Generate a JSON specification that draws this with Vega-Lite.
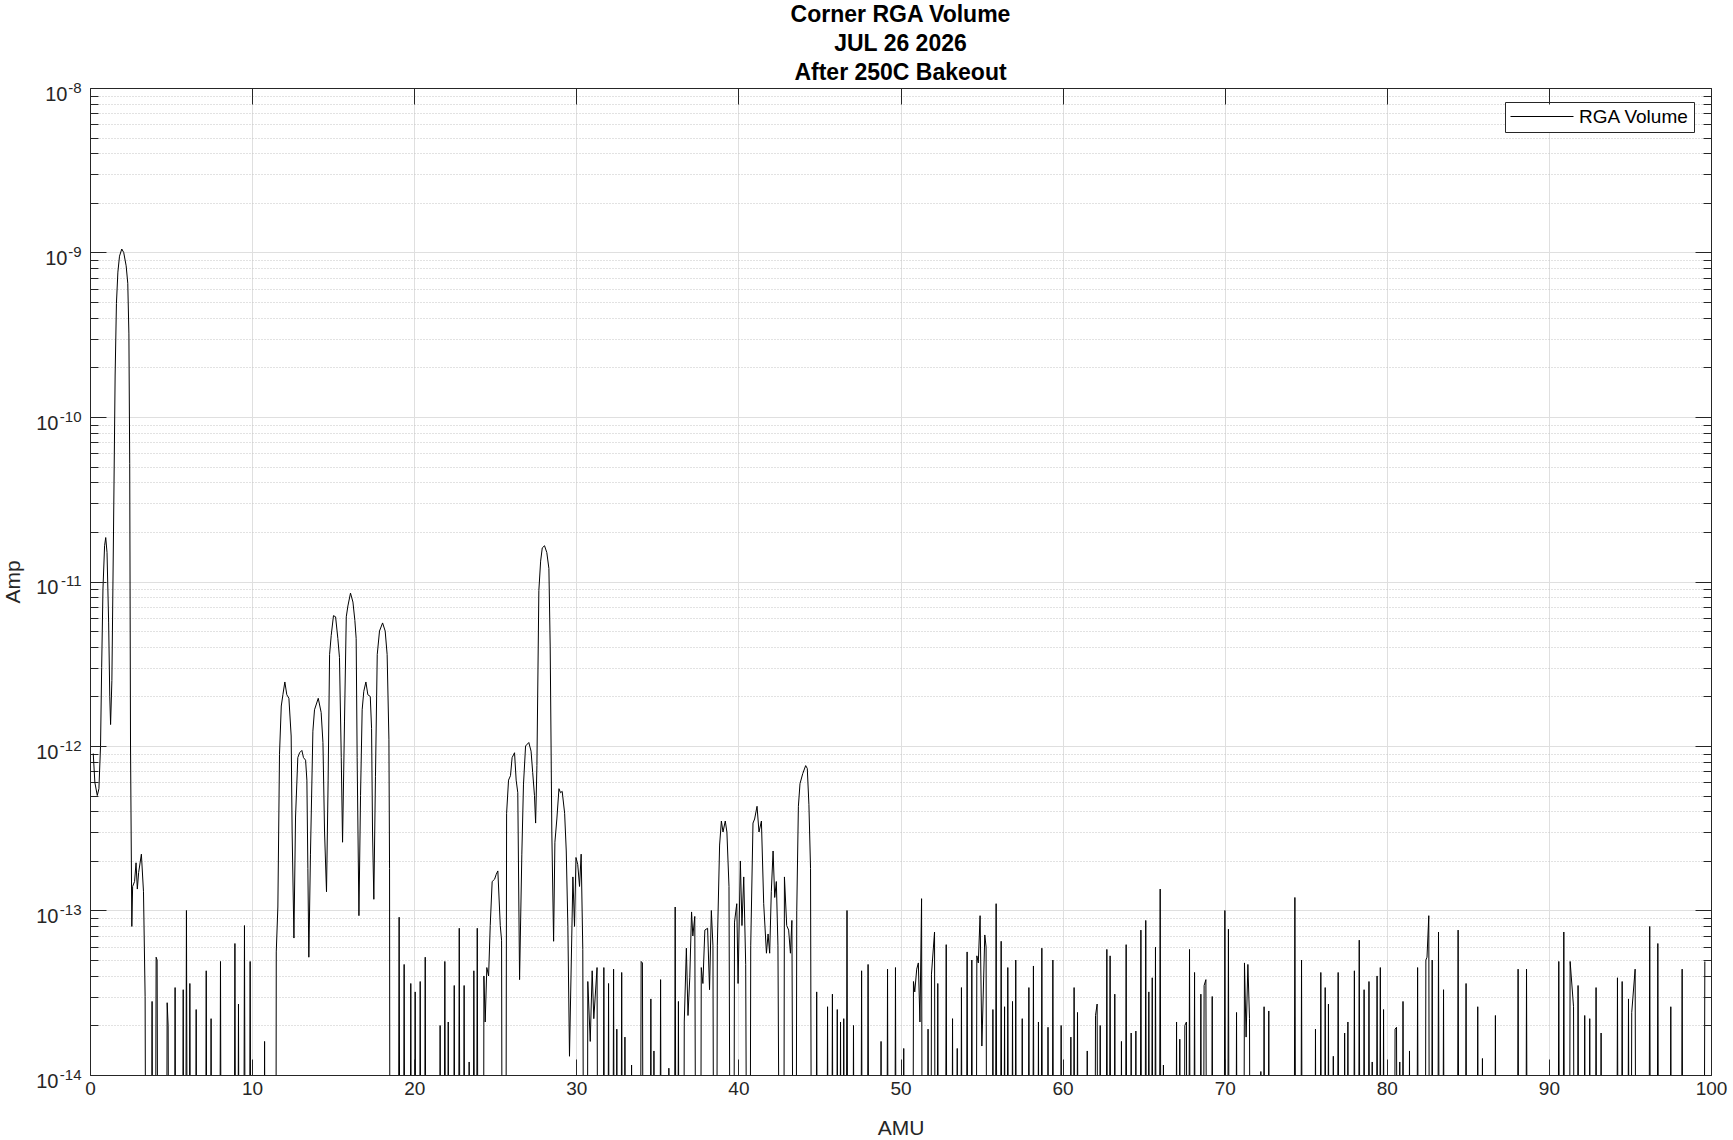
{
"$schema":"https://vega.github.io/schema/vega-lite/v6.json",
"width":1621,"height":987,
"autosize":{"type":"none"},
"padding":{"left":90,"top":88,"right":22,"bottom":65},
"background":"white",
"config":{
 "view":{"stroke":null},
 "font":"Liberation Sans",
 "axis":{"labelFont":"Liberation Sans","labelFontSize":19,"labelColor":"#262626","titleFont":"Liberation Sans","titleFontSize":21,"titleFontWeight":"normal","titleColor":"#262626","tickColor":"#262626","tickWidth":1,"domainColor":"#262626","domainWidth":1,"gridColor":"#dfdfdf","gridWidth":1,"gridOpacity":1}
},
"title":{"text":["Corner RGA Volume","JUL 26 2026","After 250C Bakeout"],"font":"Liberation Sans","fontSize":23,"fontWeight":"bold","color":"#000000","lineHeight":29,"anchor":"middle","frame":"group","offset":-5},
"data":{"values":[
{"a":0.2,"p":9e-13},{"a":0.3,"p":6e-13},{"a":0.45,"p":5e-13},{"a":0.55,"p":5.5e-13},{"a":0.65,"p":1e-12},{"a":0.72,"p":3e-12},{"a":0.8,"p":9e-12},{"a":0.9,"p":1.65e-11},{"a":0.97,"p":1.85e-11},{"a":1.05,"p":1.5e-11},{"a":1.15,"p":5.6e-12},{"a":1.22,"p":2e-12},{"a":1.27,"p":1.35e-12},{"a":1.35,"p":2.5e-12},{"a":1.45,"p":2e-11},{"a":1.55,"p":1.8e-10},{"a":1.63,"p":4.9e-10},{"a":1.72,"p":7.6e-10},{"a":1.82,"p":9.5e-10},{"a":1.96,"p":1.05e-9},{"a":2.08,"p":1e-9},{"a":2.23,"p":8.3e-10},{"a":2.33,"p":6.5e-10},{"a":2.4,"p":3.2e-10},{"a":2.45,"p":5.2e-11},{"a":2.5,"p":1e-12},{"a":2.58,"p":8e-14},{"a":2.63,"p":1.4e-13},{"a":2.75,"p":1.5e-13},{"a":2.84,"p":1.95e-13},{"a":2.92,"p":1.35e-13},{"a":3.0,"p":1.7e-13},{"a":3.17,"p":2.2e-13},{"a":3.3,"p":1.3e-13},{"a":3.4,"p":3e-14},{"a":3.5,"p":1e-17},
{"a":3.73,"p":1e-17},{"a":3.83,"p":2.8e-14},{"a":3.93,"p":1e-17},
{"a":3.98,"p":1e-17},{"a":4.08,"p":5.2e-14},{"a":4.14,"p":5e-14},{"a":4.24,"p":1e-17},
{"a":4.66,"p":1e-17},{"a":4.76,"p":2.75e-14},{"a":4.82,"p":2e-14},{"a":4.92,"p":1e-17},
{"a":5.15,"p":1e-17},{"a":5.25,"p":3.4e-14},{"a":5.35,"p":1e-17},
{"a":5.65,"p":1e-17},{"a":5.75,"p":3.3e-14},{"a":5.85,"p":1e-17},{"a":5.95,"p":1e-13},{"a":6.06,"p":1e-17},{"a":6.16,"p":3.6e-14},{"a":6.26,"p":1e-17},
{"a":6.45,"p":1e-17},{"a":6.55,"p":2.5e-14},{"a":6.65,"p":1e-17},
{"a":7.07,"p":1e-17},{"a":7.17,"p":4.3e-14},{"a":7.27,"p":1e-17},
{"a":7.37,"p":1e-17},{"a":7.47,"p":2.2e-14},{"a":7.57,"p":1e-17},
{"a":7.95,"p":1e-17},{"a":8.05,"p":4.9e-14},{"a":8.15,"p":1e-17},
{"a":8.84,"p":1e-17},{"a":8.94,"p":6.3e-14},{"a":9.04,"p":1e-17},
{"a":9.06,"p":1e-17},{"a":9.16,"p":2.7e-14},{"a":9.26,"p":1e-17},
{"a":9.43,"p":1e-17},{"a":9.53,"p":8.1e-14},{"a":9.63,"p":1e-17},
{"a":9.78,"p":1e-17},{"a":9.88,"p":4.9e-14},{"a":9.98,"p":1e-17},
{"a":10.67,"p":1e-17},{"a":10.77,"p":1.6e-14},{"a":10.87,"p":1e-17},
{"a":11.45,"p":1e-17},{"a":11.49,"p":5.6e-14},{"a":11.59,"p":1.05e-13},{"a":11.69,"p":8.9e-13},{"a":11.8,"p":1.75e-12},{"a":11.9,"p":2.05e-12},{"a":12.02,"p":2.45e-12},{"a":12.14,"p":2.05e-12},{"a":12.27,"p":1.95e-12},{"a":12.41,"p":1.15e-12},{"a":12.47,"p":3e-13},{"a":12.58,"p":6.8e-14},{"a":12.68,"p":3.7e-13},{"a":12.82,"p":8.5e-13},{"a":12.93,"p":9.1e-13},{"a":13.07,"p":9.4e-13},{"a":13.17,"p":8.5e-13},{"a":13.3,"p":8.2e-13},{"a":13.38,"p":6.2e-13},{"a":13.44,"p":1.8e-13},{"a":13.5,"p":5.2e-14},{"a":13.6,"p":2.2e-13},{"a":13.75,"p":1.23e-12},{"a":13.85,"p":1.66e-12},{"a":14.08,"p":1.95e-12},{"a":14.26,"p":1.6e-12},{"a":14.37,"p":1.05e-12},{"a":14.47,"p":3e-13},{"a":14.59,"p":1.3e-13},{"a":14.69,"p":6.2e-13},{"a":14.78,"p":3.6e-12},{"a":14.88,"p":4.7e-12},{"a":15.02,"p":6.2e-12},{"a":15.15,"p":6.1e-12},{"a":15.29,"p":4.5e-12},{"a":15.39,"p":3.45e-12},{"a":15.5,"p":8.5e-13},{"a":15.58,"p":2.6e-13},{"a":15.7,"p":1.4e-12},{"a":15.81,"p":6.1e-12},{"a":15.91,"p":7.1e-12},{"a":16.07,"p":8.5e-12},{"a":16.22,"p":7.5e-12},{"a":16.34,"p":5.8e-12},{"a":16.42,"p":4.5e-12},{"a":16.48,"p":8.5e-13},{"a":16.59,"p":9.3e-14},{"a":16.69,"p":5e-13},{"a":16.79,"p":1.66e-12},{"a":16.89,"p":2.15e-12},{"a":17.02,"p":2.45e-12},{"a":17.14,"p":2.05e-12},{"a":17.29,"p":2e-12},{"a":17.37,"p":1.28e-12},{"a":17.43,"p":3e-13},{"a":17.51,"p":1.17e-13},{"a":17.61,"p":6.5e-13},{"a":17.72,"p":3.6e-12},{"a":17.86,"p":5e-12},{"a":18.05,"p":5.6e-12},{"a":18.21,"p":5e-12},{"a":18.33,"p":3.6e-12},{"a":18.44,"p":1.1e-12},{"a":18.48,"p":1.8e-13},{"a":18.52,"p":1e-17},
{"a":18.97,"p":1e-17},{"a":19.07,"p":9.1e-14},{"a":19.17,"p":1e-17},
{"a":19.28,"p":1e-17},{"a":19.38,"p":4.7e-14},{"a":19.48,"p":1e-17},
{"a":19.69,"p":1e-17},{"a":19.79,"p":3.6e-14},{"a":19.89,"p":1e-17},
{"a":19.96,"p":1e-17},{"a":20.06,"p":3.2e-14},{"a":20.16,"p":1e-17},
{"a":20.27,"p":1e-17},{"a":20.37,"p":3.7e-14},{"a":20.47,"p":1e-17},
{"a":20.58,"p":1e-17},{"a":20.68,"p":5.2e-14},{"a":20.78,"p":1e-17},
{"a":21.5,"p":1e-17},{"a":21.6,"p":2e-14},{"a":21.7,"p":1e-17},
{"a":21.79,"p":1e-17},{"a":21.89,"p":4.9e-14},{"a":22.0,"p":1e-17},{"a":22.1,"p":2.1e-14},{"a":22.2,"p":1e-17},
{"a":22.37,"p":1e-17},{"a":22.47,"p":3.5e-14},{"a":22.57,"p":1e-17},
{"a":22.68,"p":1e-17},{"a":22.78,"p":7.8e-14},{"a":22.88,"p":1e-17},
{"a":22.98,"p":1e-17},{"a":23.08,"p":3.5e-14},{"a":23.18,"p":1e-17},
{"a":23.29,"p":1e-17},{"a":23.39,"p":1.2e-14},{"a":23.49,"p":1e-17},
{"a":23.58,"p":1e-17},{"a":23.68,"p":4.3e-14},{"a":23.79,"p":1e-17},{"a":23.89,"p":7.8e-14},{"a":23.99,"p":1e-17},
{"a":24.25,"p":1e-17},{"a":24.3,"p":4e-14},{"a":24.38,"p":2.1e-14},{"a":24.48,"p":4.5e-14},{"a":24.59,"p":4e-14},{"a":24.69,"p":8.1e-14},{"a":24.81,"p":1.5e-13},{"a":24.96,"p":1.55e-13},{"a":25.06,"p":1.66e-13},{"a":25.16,"p":1.74e-13},{"a":25.31,"p":8.1e-14},{"a":25.39,"p":6.6e-14},{"a":25.47,"p":1e-17},{"a":25.62,"p":1e-17},{"a":25.7,"p":3.9e-13},{"a":25.82,"p":6.2e-13},{"a":25.94,"p":6.6e-13},{"a":26.04,"p":8.5e-13},{"a":26.19,"p":9.1e-13},{"a":26.29,"p":6.2e-13},{"a":26.39,"p":5.2e-13},{"a":26.5,"p":3.8e-14},{"a":26.64,"p":2.2e-13},{"a":26.74,"p":5.8e-13},{"a":26.87,"p":1e-12},{"a":27.07,"p":1.05e-12},{"a":27.21,"p":9.3e-13},{"a":27.31,"p":6.9e-13},{"a":27.42,"p":5e-13},{"a":27.49,"p":3.4e-13},{"a":27.57,"p":7.6e-13},{"a":27.69,"p":8.8e-12},{"a":27.8,"p":1.33e-11},{"a":27.9,"p":1.6e-11},{"a":28.04,"p":1.65e-11},{"a":28.18,"p":1.5e-11},{"a":28.31,"p":1.2e-11},{"a":28.39,"p":4e-12},{"a":28.49,"p":3e-13},{"a":28.6,"p":6.5e-14},{"a":28.68,"p":2.6e-13},{"a":28.8,"p":3.6e-13},{"a":28.93,"p":5.5e-13},{"a":29.03,"p":5.2e-13},{"a":29.13,"p":5.3e-13},{"a":29.28,"p":3.9e-13},{"a":29.38,"p":2.3e-13},{"a":29.48,"p":8e-14},{"a":29.58,"p":1.3e-14},{"a":29.79,"p":1.6e-13},{"a":29.89,"p":8e-14},{"a":29.98,"p":2.1e-13},{"a":30.09,"p":1.9e-13},{"a":30.2,"p":1.4e-13},{"a":30.3,"p":2.2e-13},{"a":30.4,"p":5.8e-14},{"a":30.52,"p":1e-17},{"a":30.64,"p":1e-17},{"a":30.71,"p":3.7e-14},{"a":30.86,"p":1.6e-14},{"a":30.98,"p":4.3e-14},{"a":31.08,"p":2.2e-14},{"a":31.28,"p":4.5e-14},{"a":31.38,"p":1e-17},
{"a":31.6,"p":1e-17},{"a":31.7,"p":4.5e-14},{"a":31.8,"p":1e-17},
{"a":31.89,"p":1e-17},{"a":31.99,"p":3.6e-14},{"a":32.09,"p":1e-17},
{"a":32.2,"p":1e-17},{"a":32.3,"p":4.4e-14},{"a":32.4,"p":1e-17},{"a":32.5,"p":1.9e-14},{"a":32.6,"p":1e-17},
{"a":32.7,"p":1e-17},{"a":32.8,"p":4.2e-14},{"a":32.9,"p":1e-17},{"a":33.0,"p":1.7e-14},{"a":33.1,"p":1e-17},
{"a":33.31,"p":1e-17},{"a":33.41,"p":1.15e-14},{"a":33.51,"p":1e-17},
{"a":33.9,"p":1e-17},{"a":34.0,"p":4.9e-14},{"a":34.08,"p":4.8e-14},{"a":34.18,"p":1e-17},
{"a":34.5,"p":1e-17},{"a":34.6,"p":2.9e-14},{"a":34.69,"p":1e-17},{"a":34.79,"p":1.4e-14},{"a":34.89,"p":1e-17},
{"a":35.1,"p":1e-17},{"a":35.2,"p":3.8e-14},{"a":35.3,"p":1e-17},
{"a":35.61,"p":1e-17},{"a":35.71,"p":1.1e-14},{"a":35.81,"p":1e-17},
{"a":36.0,"p":1e-17},{"a":36.1,"p":1.05e-13},{"a":36.2,"p":1e-17},{"a":36.3,"p":2.8e-14},{"a":36.4,"p":1e-17},
{"a":36.58,"p":1e-17},{"a":36.66,"p":2.1e-14},{"a":36.79,"p":5.9e-14},{"a":36.89,"p":2.3e-14},{"a":37.0,"p":3.9e-14},{"a":37.11,"p":9.8e-14},{"a":37.19,"p":7e-14},{"a":37.31,"p":9.2e-14},{"a":37.43,"p":1e-17},
{"a":37.62,"p":1e-17},{"a":37.71,"p":4.5e-14},{"a":37.81,"p":3.6e-14},{"a":37.93,"p":7.6e-14},{"a":38.1,"p":7.8e-14},{"a":38.22,"p":3.3e-14},{"a":38.33,"p":1e-13},{"a":38.43,"p":6.1e-14},{"a":38.53,"p":1e-17},
{"a":38.62,"p":1e-17},{"a":38.7,"p":6.1e-14},{"a":38.84,"p":2.5e-13},{"a":38.95,"p":3.5e-13},{"a":39.05,"p":3e-13},{"a":39.19,"p":3.5e-13},{"a":39.29,"p":3e-13},{"a":39.42,"p":1.4e-13},{"a":39.56,"p":1e-17},
{"a":39.68,"p":1e-17},{"a":39.76,"p":8.5e-14},{"a":39.9,"p":1.1e-13},{"a":39.98,"p":3.6e-14},{"a":40.12,"p":2e-13},{"a":40.22,"p":8.1e-14},{"a":40.33,"p":1.6e-13},{"a":40.45,"p":4.7e-14},{"a":40.6,"p":1e-17},
{"a":40.68,"p":1e-17},{"a":40.76,"p":6.1e-14},{"a":40.9,"p":3.4e-13},{"a":41.0,"p":3.6e-13},{"a":41.15,"p":4.3e-13},{"a":41.27,"p":3e-13},{"a":41.42,"p":3.5e-13},{"a":41.56,"p":1.1e-13},{"a":41.73,"p":5.5e-14},{"a":41.83,"p":7.2e-14},{"a":41.93,"p":5.5e-14},{"a":42.03,"p":1.3e-13},{"a":42.14,"p":2.3e-13},{"a":42.24,"p":1.2e-13},{"a":42.34,"p":1.5e-13},{"a":42.44,"p":6.1e-14},{"a":42.64,"p":1e-17},
{"a":42.76,"p":1e-17},{"a":42.84,"p":1.6e-13},{"a":42.98,"p":8.1e-14},{"a":43.1,"p":7.6e-14},{"a":43.21,"p":5.5e-14},{"a":43.3,"p":8.7e-14},{"a":43.46,"p":1e-17},
{"a":43.52,"p":1e-17},{"a":43.6,"p":1e-13},{"a":43.7,"p":4.3e-13},{"a":43.8,"p":5.9e-13},{"a":43.97,"p":6.8e-13},{"a":44.15,"p":7.6e-13},{"a":44.25,"p":7.3e-13},{"a":44.35,"p":4.4e-13},{"a":44.45,"p":1.8e-13},{"a":44.56,"p":1e-17},
{"a":44.73,"p":1e-17},{"a":44.83,"p":3.2e-14},{"a":44.93,"p":1e-17},
{"a":45.4,"p":1e-17},{"a":45.5,"p":2.6e-14},{"a":45.6,"p":1e-17},
{"a":45.7,"p":1e-17},{"a":45.8,"p":3.1e-14},{"a":45.9,"p":1e-17},
{"a":46.0,"p":1e-17},{"a":46.1,"p":2.5e-14},{"a":46.2,"p":1e-17},{"a":46.3,"p":2.1e-14},{"a":46.4,"p":1e-17},{"a":46.5,"p":2.2e-14},{"a":46.6,"p":1e-17},{"a":46.7,"p":1e-13},{"a":46.8,"p":1e-17},
{"a":47.0,"p":1e-17},{"a":47.1,"p":2e-14},{"a":47.2,"p":1e-17},
{"a":47.5,"p":1e-17},{"a":47.6,"p":4.3e-14},{"a":47.7,"p":1e-17},
{"a":47.9,"p":1e-17},{"a":48.0,"p":4.7e-14},{"a":48.1,"p":1e-17},
{"a":48.7,"p":1e-17},{"a":48.8,"p":1.6e-14},{"a":48.9,"p":1e-17},
{"a":49.1,"p":1e-17},{"a":49.2,"p":4.4e-14},{"a":49.3,"p":1e-17},
{"a":49.59,"p":1e-17},{"a":49.69,"p":4.5e-14},{"a":49.79,"p":1e-17},
{"a":50.1,"p":1e-17},{"a":50.2,"p":1.45e-14},{"a":50.3,"p":1e-17},
{"a":50.72,"p":1e-17},{"a":50.8,"p":3.7e-14},{"a":50.88,"p":3.2e-14},{"a":51.0,"p":4.4e-14},{"a":51.1,"p":4.8e-14},{"a":51.2,"p":2.1e-14},{"a":51.3,"p":1.18e-13},{"a":51.38,"p":1e-17},
{"a":51.6,"p":1e-17},{"a":51.7,"p":1.9e-14},{"a":51.8,"p":1e-17},
{"a":51.84,"p":1e-17},{"a":51.91,"p":4.1e-14},{"a":52.1,"p":7.4e-14},{"a":52.18,"p":1e-17},{"a":52.3,"p":3.6e-14},{"a":52.4,"p":1e-17},
{"a":52.72,"p":1e-17},{"a":52.82,"p":6.2e-14},{"a":52.92,"p":1e-17},
{"a":53.11,"p":1e-17},{"a":53.21,"p":2.2e-14},{"a":53.31,"p":1e-17},
{"a":53.4,"p":1e-17},{"a":53.5,"p":1.45e-14},{"a":53.6,"p":1e-17},
{"a":53.66,"p":1e-17},{"a":53.76,"p":3.4e-14},{"a":53.86,"p":1e-17},
{"a":54.01,"p":1e-17},{"a":54.11,"p":5.6e-14},{"a":54.21,"p":1e-17},
{"a":54.3,"p":1e-17},{"a":54.4,"p":5e-14},{"a":54.5,"p":1e-17},
{"a":54.62,"p":1e-17},{"a":54.71,"p":5.3e-14},{"a":54.8,"p":4.8e-14},{"a":54.91,"p":9.3e-14},{"a":55.02,"p":1.5e-14},{"a":55.2,"p":7.1e-14},{"a":55.28,"p":6e-14},{"a":55.36,"p":1e-17},
{"a":55.6,"p":1e-17},{"a":55.7,"p":2.5e-14},{"a":55.8,"p":1e-17},{"a":55.9,"p":1.1e-13},{"a":56.0,"p":1e-17},
{"a":56.11,"p":1e-17},{"a":56.21,"p":6.5e-14},{"a":56.31,"p":1e-17},{"a":56.42,"p":2.6e-14},{"a":56.52,"p":1e-17},{"a":56.62,"p":4.5e-14},{"a":56.72,"p":1e-17},
{"a":56.81,"p":1e-17},{"a":56.91,"p":2.8e-14},{"a":57.01,"p":1e-17},{"a":57.11,"p":5e-14},{"a":57.21,"p":1e-17},
{"a":57.41,"p":1e-17},{"a":57.51,"p":2.2e-14},{"a":57.61,"p":1e-17},
{"a":57.82,"p":1e-17},{"a":57.92,"p":3.4e-14},{"a":58.02,"p":1e-17},
{"a":58.1,"p":1e-17},{"a":58.2,"p":4.6e-14},{"a":58.3,"p":1e-17},
{"a":58.41,"p":1e-17},{"a":58.51,"p":2.1e-14},{"a":58.61,"p":1e-17},{"a":58.72,"p":5.9e-14},{"a":58.82,"p":1e-17},
{"a":59.0,"p":1e-17},{"a":59.1,"p":1.95e-14},{"a":59.2,"p":1e-17},
{"a":59.3,"p":1e-17},{"a":59.4,"p":5e-14},{"a":59.5,"p":1e-17},
{"a":59.81,"p":1e-17},{"a":59.91,"p":2e-14},{"a":60.01,"p":1e-17},
{"a":60.41,"p":1e-17},{"a":60.51,"p":1.7e-14},{"a":60.61,"p":1e-17},{"a":60.71,"p":3.4e-14},{"a":60.81,"p":1e-17},{"a":60.92,"p":2.4e-14},{"a":61.02,"p":1e-17},
{"a":61.42,"p":1e-17},{"a":61.52,"p":1.4e-14},{"a":61.62,"p":1e-17},
{"a":61.93,"p":1e-17},{"a":62.03,"p":2.3e-14},{"a":62.13,"p":2.7e-14},{"a":62.22,"p":1e-17},{"a":62.32,"p":2e-14},{"a":62.42,"p":1e-17},
{"a":62.63,"p":1e-17},{"a":62.73,"p":5.8e-14},{"a":62.83,"p":1e-17},{"a":62.93,"p":5.3e-14},{"a":63.03,"p":1e-17},
{"a":63.12,"p":1e-17},{"a":63.22,"p":3.1e-14},{"a":63.32,"p":1e-17},
{"a":63.53,"p":1e-17},{"a":63.63,"p":1.6e-14},{"a":63.73,"p":1e-17},
{"a":63.82,"p":1e-17},{"a":63.92,"p":6.2e-14},{"a":64.02,"p":1e-17},
{"a":64.13,"p":1e-17},{"a":64.23,"p":1.8e-14},{"a":64.33,"p":1e-17},
{"a":64.42,"p":1e-17},{"a":64.52,"p":1.85e-14},{"a":64.62,"p":1e-17},
{"a":64.73,"p":1e-17},{"a":64.83,"p":7.6e-14},{"a":64.93,"p":1e-17},
{"a":65.03,"p":1e-17},{"a":65.13,"p":8.7e-14},{"a":65.22,"p":1e-17},{"a":65.32,"p":3.2e-14},{"a":65.42,"p":1e-17},{"a":65.53,"p":3.9e-14},{"a":65.63,"p":1e-17},{"a":65.73,"p":6e-14},{"a":65.83,"p":1e-17},
{"a":65.92,"p":1e-17},{"a":66.02,"p":1.35e-13},{"a":66.12,"p":1e-17},{"a":66.22,"p":1.15e-14},{"a":66.32,"p":1e-17},
{"a":66.93,"p":1e-17},{"a":67.03,"p":2.1e-14},{"a":67.13,"p":1e-17},{"a":67.23,"p":1.65e-14},{"a":67.33,"p":1e-17},
{"a":67.44,"p":1e-17},{"a":67.54,"p":2e-14},{"a":67.64,"p":2.1e-14},{"a":67.73,"p":1e-17},{"a":67.83,"p":5.8e-14},{"a":67.93,"p":1e-17},
{"a":68.04,"p":1e-17},{"a":68.14,"p":4.2e-14},{"a":68.24,"p":1e-17},
{"a":68.43,"p":1e-17},{"a":68.53,"p":3.1e-14},{"a":68.63,"p":1e-17},{"a":68.73,"p":3.5e-14},{"a":68.84,"p":3.8e-14},{"a":68.94,"p":1e-17},
{"a":69.13,"p":1e-17},{"a":69.23,"p":3e-14},{"a":69.33,"p":1e-17},
{"a":69.91,"p":1e-17},{"a":70.01,"p":1e-13},{"a":70.12,"p":1e-17},{"a":70.23,"p":7.7e-14},{"a":70.33,"p":1e-17},
{"a":70.63,"p":1e-17},{"a":70.73,"p":2.4e-14},{"a":70.83,"p":1e-17},
{"a":71.12,"p":1e-17},{"a":71.22,"p":4.8e-14},{"a":71.32,"p":1.7e-14},{"a":71.43,"p":4.7e-14},{"a":71.53,"p":2.2e-14},{"a":71.63,"p":1e-17},
{"a":72.13,"p":1e-17},{"a":72.23,"p":1.05e-14},{"a":72.33,"p":1e-17},{"a":72.43,"p":2.6e-14},{"a":72.53,"p":1e-17},
{"a":72.62,"p":1e-17},{"a":72.72,"p":2.45e-14},{"a":72.82,"p":1e-17},
{"a":74.23,"p":1e-17},{"a":74.33,"p":1.2e-13},{"a":74.43,"p":1e-17},
{"a":74.64,"p":1e-17},{"a":74.74,"p":5e-14},{"a":74.84,"p":1e-17},
{"a":75.5,"p":1e-17},{"a":75.6,"p":1.9e-14},{"a":75.7,"p":1e-17},
{"a":75.83,"p":1e-17},{"a":75.93,"p":4.2e-14},{"a":76.03,"p":1e-17},
{"a":76.1,"p":1e-17},{"a":76.2,"p":3.4e-14},{"a":76.3,"p":1e-17},{"a":76.4,"p":2.7e-14},{"a":76.5,"p":1e-17},
{"a":76.6,"p":1e-17},{"a":76.7,"p":1.3e-14},{"a":76.8,"p":1e-17},
{"a":76.9,"p":1e-17},{"a":77.0,"p":4.2e-14},{"a":77.1,"p":1e-17},
{"a":77.3,"p":1e-17},{"a":77.4,"p":1.8e-14},{"a":77.5,"p":1e-17},{"a":77.6,"p":2.1e-14},{"a":77.7,"p":1e-17},
{"a":77.9,"p":1e-17},{"a":78.0,"p":4.3e-14},{"a":78.1,"p":1e-17},
{"a":78.2,"p":1e-17},{"a":78.3,"p":6.6e-14},{"a":78.4,"p":1e-17},
{"a":78.5,"p":1e-17},{"a":78.6,"p":3.3e-14},{"a":78.7,"p":1e-17},
{"a":78.8,"p":1e-17},{"a":78.9,"p":3.7e-14},{"a":79.0,"p":1e-17},{"a":79.1,"p":1.2e-14},{"a":79.2,"p":1e-17},
{"a":79.3,"p":1e-17},{"a":79.4,"p":4e-14},{"a":79.5,"p":1e-17},{"a":79.6,"p":4.5e-14},{"a":79.7,"p":1e-17},{"a":79.8,"p":2.5e-14},{"a":79.9,"p":1e-17},
{"a":80.41,"p":1e-17},{"a":80.51,"p":1.9e-14},{"a":80.6,"p":1.95e-14},{"a":80.7,"p":1e-17},{"a":80.8,"p":1.2e-14},{"a":80.9,"p":1e-17},{"a":81.0,"p":2.8e-14},{"a":81.1,"p":1e-17},
{"a":81.3,"p":1e-17},{"a":81.4,"p":1.4e-14},{"a":81.5,"p":1e-17},
{"a":81.8,"p":1e-17},{"a":81.9,"p":4.5e-14},{"a":82.0,"p":1e-17},
{"a":82.33,"p":1e-17},{"a":82.41,"p":5e-14},{"a":82.48,"p":5.2e-14},{"a":82.59,"p":9.3e-14},{"a":82.67,"p":1e-17},
{"a":82.72,"p":1e-17},{"a":82.8,"p":5e-14},{"a":82.9,"p":1e-17},
{"a":83.09,"p":1e-17},{"a":83.19,"p":7.4e-14},{"a":83.29,"p":1e-17},
{"a":83.4,"p":1e-17},{"a":83.5,"p":3.3e-14},{"a":83.6,"p":1e-17},
{"a":84.3,"p":1e-17},{"a":84.4,"p":7.6e-14},{"a":84.5,"p":1e-17},
{"a":84.79,"p":1e-17},{"a":84.89,"p":3.6e-14},{"a":84.99,"p":1e-17},
{"a":85.51,"p":1e-17},{"a":85.61,"p":2.6e-14},{"a":85.71,"p":1e-17},
{"a":85.8,"p":1e-17},{"a":85.9,"p":1.26e-14},{"a":86.0,"p":1e-17},
{"a":86.6,"p":1e-17},{"a":86.7,"p":2.3e-14},{"a":86.8,"p":1e-17},
{"a":88.0,"p":1e-17},{"a":88.1,"p":4.4e-14},{"a":88.2,"p":1e-17},
{"a":88.52,"p":1e-17},{"a":88.62,"p":4.4e-14},{"a":88.72,"p":1e-17},
{"a":90.51,"p":1e-17},{"a":90.61,"p":4.9e-14},{"a":90.71,"p":1e-17},
{"a":90.82,"p":1e-17},{"a":90.92,"p":7.4e-14},{"a":91.02,"p":1e-17},
{"a":91.21,"p":1e-17},{"a":91.31,"p":4.9e-14},{"a":91.52,"p":2.6e-14},{"a":91.62,"p":1e-17},
{"a":91.7,"p":1e-17},{"a":91.8,"p":3.5e-14},{"a":91.9,"p":1e-17},
{"a":92.11,"p":1e-17},{"a":92.21,"p":2.3e-14},{"a":92.31,"p":1e-17},
{"a":92.42,"p":1e-17},{"a":92.52,"p":2.2e-14},{"a":92.62,"p":1e-17},
{"a":92.81,"p":1e-17},{"a":92.91,"p":3.4e-14},{"a":93.01,"p":1e-17},
{"a":93.12,"p":1e-17},{"a":93.22,"p":1.8e-14},{"a":93.32,"p":1e-17},
{"a":94.13,"p":1e-17},{"a":94.23,"p":3.9e-14},{"a":94.33,"p":1e-17},
{"a":94.42,"p":1e-17},{"a":94.52,"p":3.7e-14},{"a":94.62,"p":1e-17},
{"a":94.81,"p":1e-17},{"a":94.91,"p":2.9e-14},{"a":95.01,"p":1e-17},{"a":95.11,"p":2.4e-14},{"a":95.32,"p":4.4e-14},{"a":95.42,"p":1e-17},
{"a":96.12,"p":1e-17},{"a":96.22,"p":8e-14},{"a":96.32,"p":1e-17},
{"a":96.62,"p":1e-17},{"a":96.72,"p":6.3e-14},{"a":96.82,"p":1e-17},
{"a":97.42,"p":1e-17},{"a":97.52,"p":2.6e-14},{"a":97.62,"p":1e-17},
{"a":98.12,"p":1e-17},{"a":98.22,"p":4.4e-14},{"a":98.32,"p":1e-17},
{"a":99.52,"p":1e-17},{"a":99.62,"p":4.9e-14}
]},
"layer":[
{
 "mark":{"type":"line","color":"#000000","strokeWidth":1,"clip":true},
 "encoding":{
  "x":{"field":"a","type":"quantitative","scale":{"domain":[0,100],"nice":false,"zero":false},
       "axis":{"orient":"bottom","values":[0,10,20,30,40,50,60,70,80,90,100],"grid":true,"labels":false,"ticks":false,"domain":false,"title":null,"zindex":0}},
  "y":{"field":"p","type":"quantitative","scale":{"type":"log","domain":[1e-14,1e-8],"nice":false},
       "axis":{"orient":"left","values":[1e-14,1e-13,1e-12,1e-11,1e-10,1e-9,1e-8],"grid":true,"labels":false,"ticks":false,"domain":false,"title":null,"zindex":0}},
  "color":{"datum":"RGA Volume","type":"nominal","scale":{"range":["#000000"]},
       "legend":{"title":null,"orient":"none","legendX":1415,"legendY":14,"symbolType":"stroke","symbolSize":3969,"symbolStrokeWidth":1,"symbolStrokeColor":"#000000","clipHeight":19,"labelFontSize":19,"labelFont":"Liberation Sans","labelColor":"#000000","labelOffset":5,"padding":5,"strokeColor":"#262626","fillColor":"#ffffff","cornerRadius":0}}
 }
},
{
 "mark":{"type":"line","strokeOpacity":0},
 "encoding":{
  "x":{"field":"a","type":"quantitative","scale":{"domain":[0,100],"nice":false,"zero":false},
       "axis":{"orient":"bottom","values":[0,10,20,30,40,50,60,70,80,90,100],"grid":false,"domain":true,"tickSize":-16,"labelPadding":20,"labelFlush":false,"title":"AMU","titlePadding":19,"zindex":1}},
  "y":{"field":"p","type":"quantitative","scale":{"type":"log","domain":[1e-14,1e-8],"nice":false},
       "axis":{"orient":"left","values":[1e-14,1e-13,1e-12,1e-11,1e-10,1e-9,1e-8],"grid":false,"domain":true,"tickSize":-16,"labelPadding":25,"labelOffset":-1,"labelFontSize":15,
       "labelExpr":"datum.value >= 5e-9 ? '-8' : datum.value >= 5e-10 ? '-9' : datum.value >= 5e-11 ? '-10' : datum.value >= 5e-12 ? '-11' : datum.value >= 5e-13 ? '-12' : datum.value >= 5e-14 ? '-13' : '-14'",
       "title":null,"zindex":1}}
 }
},
{
 "mark":{"type":"line","strokeOpacity":0},
 "encoding":{
  "x":{"field":"a","type":"quantitative","scale":{"domain":[0,100],"nice":false,"zero":false},"axis":null},
  "y":{"field":"p","type":"quantitative","scale":{"type":"log","domain":[1e-14,1e-8],"nice":false},
       "axis":{"orient":"left","values":[1e-9,1e-8],"grid":false,"domain":false,"tickSize":-16,"tickOpacity":0,"labelPadding":39,"labelOffset":6,"labelFontSize":20,"labelExpr":"'10'","title":null,"zindex":1}}
 }
},
{
 "mark":{"type":"line","strokeOpacity":0},
 "encoding":{
  "x":{"field":"a","type":"quantitative","scale":{"domain":[0,100],"nice":false,"zero":false},"axis":null},
  "y":{"field":"p","type":"quantitative","scale":{"type":"log","domain":[1e-14,1e-8],"nice":false},
       "axis":{"orient":"left","values":[1e-14,1e-13,1e-12,1e-11,1e-10],"grid":false,"domain":false,"tickSize":-16,"tickOpacity":0,"labelPadding":48,"labelOffset":6,"labelFontSize":20,"labelExpr":"'10'","title":"Amp","titlePadding":12,"zindex":1}}
 }
},
{
 "mark":{"type":"line","strokeOpacity":0},
 "encoding":{
  "x":{"field":"a","type":"quantitative","scale":{"domain":[0,100],"nice":false,"zero":false},
       "axis":{"orient":"top","values":[0,10,20,30,40,50,60,70,80,90,100],"grid":false,"domain":true,"labels":false,"tickSize":-16,"title":null,"zindex":1}},
  "y":{"field":"p","type":"quantitative","scale":{"type":"log","domain":[1e-14,1e-8],"nice":false},
       "axis":{"orient":"right","values":[1e-14,1e-13,1e-12,1e-11,1e-10,1e-9,1e-8],"grid":false,"domain":true,"labels":false,"tickSize":-16,"title":null,"zindex":1}}
 }
},
{
 "mark":{"type":"line","strokeOpacity":0},
 "encoding":{
  "x":{"field":"a","type":"quantitative","scale":{"domain":[0,100],"nice":false,"zero":false},"axis":null},
  "y":{"field":"p","type":"quantitative","scale":{"type":"log","domain":[1e-14,1e-8],"nice":false},
       "axis":{"orient":"left","values":[2e-14,3e-14,4e-14,5e-14,6e-14,7e-14,8e-14,9e-14,2e-13,3e-13,4e-13,5e-13,6e-13,7e-13,8e-13,9e-13,2e-12,3e-12,4e-12,5e-12,6e-12,7e-12,8e-12,9e-12,2e-11,3e-11,4e-11,5e-11,6e-11,7e-11,8e-11,9e-11,2e-10,3e-10,4e-10,5e-10,6e-10,7e-10,8e-10,9e-10,2e-9,3e-9,4e-9,5e-9,6e-9,7e-9,8e-9,9e-9],
       "grid":true,"gridDash":[1,2],"gridColor":"#c4c4c4","domain":false,"labels":false,"tickSize":-8,"title":null,"zindex":0}}
 }
},
{
 "mark":{"type":"line","strokeOpacity":0},
 "encoding":{
  "x":{"field":"a","type":"quantitative","scale":{"domain":[0,100],"nice":false,"zero":false},"axis":null},
  "y":{"field":"p","type":"quantitative","scale":{"type":"log","domain":[1e-14,1e-8],"nice":false},
       "axis":{"orient":"right","values":[2e-14,3e-14,4e-14,5e-14,6e-14,7e-14,8e-14,9e-14,2e-13,3e-13,4e-13,5e-13,6e-13,7e-13,8e-13,9e-13,2e-12,3e-12,4e-12,5e-12,6e-12,7e-12,8e-12,9e-12,2e-11,3e-11,4e-11,5e-11,6e-11,7e-11,8e-11,9e-11,2e-10,3e-10,4e-10,5e-10,6e-10,7e-10,8e-10,9e-10,2e-9,3e-9,4e-9,5e-9,6e-9,7e-9,8e-9,9e-9],
       "grid":false,"domain":false,"labels":false,"tickSize":-8,"title":null,"zindex":1}}
 }
}
],
"resolve":{"axis":{"x":"independent","y":"independent"}}
}
